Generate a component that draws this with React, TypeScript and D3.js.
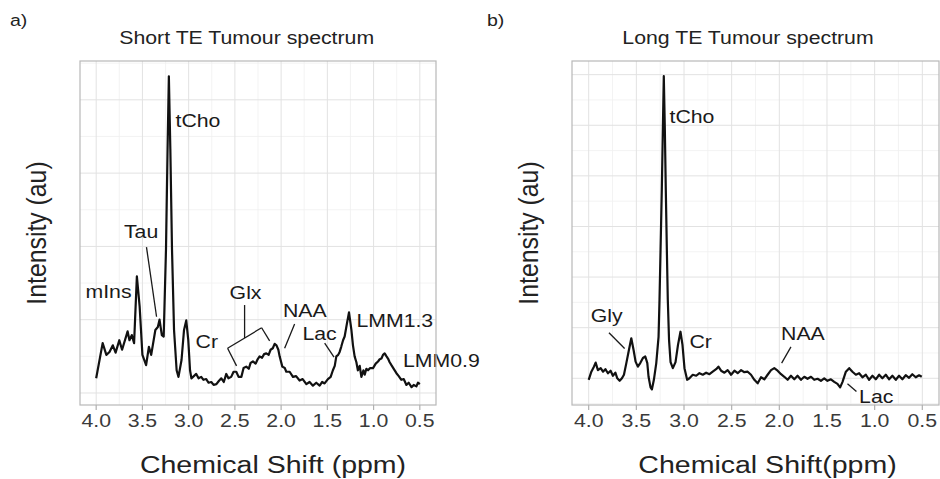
import React from 'react';
import * as d3 from 'd3';

// ---- data (ppm, intensity in arbitrary units) ----
const leftSpectrum: [number, number][] = [
  [4.00,0.20],[3.93,0.68],[3.89,0.52],[3.856,0.56],[3.82,0.65],[3.79,0.55],[3.75,0.72],[3.72,0.59],
  [3.66,0.84],[3.64,0.72],[3.615,0.79],[3.59,0.68],[3.56,1.59],[3.53,1.18],[3.50,0.52],[3.46,0.38],
  [3.43,0.63],[3.405,0.52],[3.36,0.86],[3.333,0.90],[3.315,1.00],[3.29,0.79],[3.27,0.77],[3.245,1.96],
  [3.228,3.33],[3.214,4.32],[3.198,3.33],[3.18,1.96],[3.158,0.86],[3.13,0.31],[3.11,0.22],[3.077,0.45],
  [3.05,0.86],[3.026,0.99],[3.004,0.72],[2.985,0.31],[2.97,0.20],[2.918,0.26],[2.893,0.20],[2.864,0.22],
  [2.84,0.18],[2.81,0.19],[2.785,0.14],[2.755,0.15],[2.73,0.11],[2.70,0.12],[2.676,0.16],[2.647,0.20],
  [2.62,0.15],[2.593,0.26],[2.57,0.20],[2.54,0.22],[2.514,0.29],[2.485,0.29],[2.46,0.22],[2.43,0.22],
  [2.406,0.34],[2.377,0.36],[2.35,0.33],[2.33,0.41],[2.305,0.43],[2.276,0.40],[2.254,0.46],[2.233,0.50],
  [2.206,0.48],[2.184,0.53],[2.16,0.54],[2.135,0.52],[2.114,0.59],[2.09,0.61],[2.07,0.67],[2.05,0.65],
  [2.03,0.59],[2.016,0.50],[1.987,0.36],[1.96,0.34],[1.944,0.29],[1.908,0.29],[1.872,0.22],[1.838,0.23],
  [1.80,0.17],[1.767,0.19],[1.727,0.12],[1.692,0.15],[1.656,0.10],[1.62,0.14],[1.583,0.10],[1.556,0.15],
  [1.53,0.13],[1.494,0.19],[1.464,0.22],[1.44,0.31],[1.42,0.37],[1.403,0.50],[1.383,0.52],[1.367,0.56],
  [1.35,0.63],[1.33,0.72],[1.313,0.77],[1.288,0.95],[1.266,1.10],[1.24,0.86],[1.223,0.65],[1.205,0.50],
  [1.186,0.42],[1.17,0.31],[1.15,0.37],[1.132,0.22],[1.11,0.31],[1.096,0.25],[1.078,0.33],[1.06,0.31],
  [1.037,0.34],[1.006,0.34],[0.977,0.40],[0.952,0.43],[0.934,0.46],[0.915,0.47],[0.898,0.52],[0.88,0.54],
  [0.86,0.50],[0.844,0.47],[0.826,0.42],[0.807,0.38],[0.782,0.33],[0.753,0.27],[0.728,0.23],[0.70,0.18],
  [0.674,0.19],[0.645,0.11],[0.62,0.14],[0.59,0.08],[0.566,0.11],[0.537,0.09],[0.52,0.14],[0.50,0.12],
];

const rightSpectrum: [number, number][] = [
  [4.000,-0.03],[3.972,0.13],[3.945,0.23],[3.927,0.31],[3.903,0.16],[3.874,0.20],[3.850,0.13],[3.825,0.18],
  [3.798,0.10],[3.770,0.15],[3.746,0.05],[3.720,0.11],[3.700,0.00],[3.675,-0.05],[3.651,0.00],[3.630,0.07],
  [3.605,0.30],[3.581,0.53],[3.553,0.79],[3.529,0.56],[3.508,0.33],[3.484,0.23],[3.459,0.30],[3.431,0.40],
  [3.406,0.43],[3.385,0.30],[3.372,0.03],[3.351,-0.18],[3.337,-0.22],[3.316,-0.03],[3.291,0.30],[3.267,0.82],
  [3.257,1.55],[3.246,2.54],[3.233,3.72],[3.222,4.91],[3.212,5.97],[3.201,4.91],[3.191,3.72],[3.180,2.54],
  [3.170,1.55],[3.157,0.76],[3.141,0.32],[3.117,0.20],[3.089,0.32],[3.063,0.66],[3.037,0.92],[3.016,0.66],
  [2.995,0.20],[2.967,-0.03],[2.943,0.00],[2.908,0.07],[2.872,0.05],[2.838,0.10],[2.803,0.07],[2.768,0.11],
  [2.733,0.08],[2.699,0.13],[2.663,0.18],[2.639,0.23],[2.611,0.15],[2.576,0.11],[2.542,0.16],[2.506,0.07],
  [2.471,0.15],[2.437,0.10],[2.401,0.16],[2.367,0.12],[2.332,0.13],[2.297,0.07],[2.262,-0.03],[2.227,-0.10],
  [2.192,0.02],[2.157,-0.02],[2.123,0.07],[2.087,0.16],[2.053,0.20],[2.018,0.15],[1.982,0.08],[1.948,0.03],
  [1.913,-0.03],[1.878,0.05],[1.843,-0.02],[1.809,0.05],[1.773,-0.03],[1.738,0.03],[1.704,-0.01],[1.668,0.03],
  [1.634,-0.03],[1.599,-0.01],[1.564,-0.05],[1.529,0.00],[1.495,-0.05],[1.459,-0.02],[1.424,-0.07],[1.390,-0.11],
  [1.362,-0.18],[1.337,-0.07],[1.302,0.13],[1.267,0.20],[1.233,0.13],[1.197,0.07],[1.163,0.10],[1.128,0.02],
  [1.092,0.07],[1.058,-0.03],[1.023,0.05],[0.988,-0.02],[0.953,0.07],[0.919,0.00],[0.883,0.07],[0.848,-0.02],
  [0.814,0.05],[0.778,-0.03],[0.744,0.05],[0.709,-0.02],[0.674,0.06],[0.639,0.01],[0.605,0.08],[0.569,0.02],
  [0.534,0.06],[0.506,0.03],
];

const xTickValues = [4.0, 3.5, 3.0, 2.5, 2.0, 1.5, 1.0, 0.5];
const xMinorValues = [3.75, 3.25, 2.75, 2.25, 1.75, 1.25, 0.75];
const leftYMajor = [0, 1, 2, 3, 4];
const leftYMinor = [0.5, 1.5, 2.5, 3.5, 4.5];
const rightYMajor = [0, 1, 2, 3, 4, 5, 6];
const rightYMinor = [-0.5, 0.5, 1.5, 2.5, 3.5, 4.5, 5.5];

const leftTitle = 'Short TE Tumour spectrum';
const rightTitle = 'Long TE Tumour spectrum';
const leftXTitle = 'Chemical Shift (ppm)';
const rightXTitle = 'Chemical Shift(ppm)';
const yTitle = 'Intensity (au)';

// annotation labels anchored in data coordinates [label, ppm, intensity]
const leftLabels: [string, number, number][] = [
  ['tCho', 3.142, 3.633], ['Tau', 3.70, 2.11], ['mIns', 4.116, 1.29], ['Cr', 2.925, 0.61],
  ['Glx', 2.557, 1.28], ['NAA', 1.98, 1.04], ['Lac', 1.77, 0.72], ['LMM1.3', 1.186, 0.90],
  ['LMM0.9', 0.682, 0.36],
];
const leftLeaders: [number, number, number, number][] = [
  [3.456, 1.99, 3.347, 1.04],
  [1.854, 0.94, 1.962, 0.61],
  [1.529, 0.68, 1.428, 0.49],
  [2.395, 1.20, 2.395, 0.75],
  [2.579, 0.61, 2.211, 0.89],
  [2.579, 0.61, 2.482, 0.37],
  [2.211, 0.89, 2.124, 0.71],
];
const rightLabels: [string, number, number][] = [
  ['tCho', 3.152, 5.04], ['Gly', 3.979, 1.12], ['Cr', 2.943, 0.59], ['NAA', 1.982, 0.75], ['Lac', 1.163, -0.49],
];
const rightLeaders: [number, number, number, number][] = [
  [3.787, 0.90, 3.623, 0.59],
  [1.878, 0.62, 1.976, 0.30],
  [1.285, -0.11, 1.191, -0.26],
];

const SX = 1.15;
const FONT = "'Liberation Sans', Arial, Helvetica, sans-serif";

function Label({ x, y, children, size = 18.5, anchor = 'start', fill = '#1a1a1a' }: any) {
  return (
    <text transform={`translate(${x},${y}) scale(${SX},1)`} fontSize={size} textAnchor={anchor}
      fill={fill} fontFamily={FONT}>{children}</text>
  );
}

function Panel({ x0, x1, y0, y1, yDomain, yMajor, yMinor, data, labels, leaders, title, titleX, xTitle, xTitleX, yTitleX, tag, tagX }: any) {
  const x = d3.scaleLinear().domain([4.175, 0.325]).range([x0, x1]);
  const y = d3.scaleLinear().domain(yDomain).range([y1, y0]);
  const line = d3.line<[number, number]>().x(d => x(d[0])).y(d => y(d[1]));
  return (
    <g>
      <rect x={x0} y={y0} width={x1 - x0} height={y1 - y0} fill="#fff" />
      {yMinor.map((v: number) => (
        <line key={'ym' + v} x1={x0} x2={x1} y1={y(v)} y2={y(v)} stroke="#f0f0f0" strokeWidth={0.8} />
      ))}
      {xMinorValues.map((v: number) => (
        <line key={'xm' + v} x1={x(v)} x2={x(v)} y1={y0} y2={y1} stroke="#f0f0f0" strokeWidth={0.8} />
      ))}
      {yMajor.map((v: number) => (
        <line key={'yM' + v} x1={x0} x2={x1} y1={y(v)} y2={y(v)} stroke="#e2e2e2" strokeWidth={1} />
      ))}
      {xTickValues.map((v: number) => (
        <line key={'xM' + v} x1={x(v)} x2={x(v)} y1={y0} y2={y1} stroke="#e2e2e2" strokeWidth={1} />
      ))}
      <path d={line(data) || ''} fill="none" stroke="#111" strokeWidth={2.2} strokeLinejoin="round" />
      {leaders.map((l: number[], i: number) => (
        <line key={'ld' + i} x1={x(l[0])} y1={y(l[1])} x2={x(l[2])} y2={y(l[3])} stroke="#1a1a1a" strokeWidth={1.3} />
      ))}
      {labels.map((l: any, i: number) => (
        <Label key={'lb' + i} x={x(l[1])} y={y(l[2])}>{l[0]}</Label>
      ))}
      <rect x={x0} y={y0} width={x1 - x0} height={y1 - y0} fill="none" stroke="#b8b8b8" strokeWidth={1.2} />
      {xTickValues.map((v: number) => (
        <line key={'tk' + v} x1={x(v)} x2={x(v)} y1={y1} y2={y1 + 5} stroke="#b0b0b0" strokeWidth={1.2} />
      ))}
      {xTickValues.map((v: number) => (
        <Label key={'tl' + v} x={x(v)} y={426.5} anchor="middle" fill="#3a3a3a">{v.toFixed(1)}</Label>
      ))}
      <Label x={titleX} y={44} anchor="middle" fill="#222">{title}</Label>
      <Label x={xTitleX} y={473} anchor="middle" size={24.8} fill="#222">{xTitle}</Label>
      <text transform={`translate(${yTitleX},${(y0 + y1) / 2}) rotate(-90) scale(1,${SX})`} fontSize={24.8}
        textAnchor="middle" fill="#222" fontFamily={FONT}>{yTitle}</text>
      <Label x={tagX} y={26} size={17} fill="#222">{tag}</Label>
    </g>
  );
}

export default function App() {
  return (
    <svg width={940} height={479} style={{ position: 'absolute', left: 0, top: 0, background: '#fff' }}>
      <rect x={0} y={0} width={940} height={479} fill="#fff" />
      <Panel x0={80} x1={436} y0={61} y1={405} yDomain={[-0.164, 4.53]} yMajor={leftYMajor} yMinor={leftYMinor}
        data={leftSpectrum} labels={leftLabels} leaders={leftLeaders} title={leftTitle} titleX={246.7}
        xTitle={leftXTitle} xTitleX={273} yTitleX={46} tag="a)" tagX={10} />
      <Panel x0={572} x1={939} y0={61} y1={405} yDomain={[-0.528, 6.27]} yMajor={rightYMajor} yMinor={rightYMinor}
        data={rightSpectrum} labels={rightLabels} leaders={rightLeaders} title={rightTitle} titleX={748}
        xTitle={rightXTitle} xTitleX={767.5} yTitleX={538} tag="b)" tagX={487} />
    </svg>
  );
}
